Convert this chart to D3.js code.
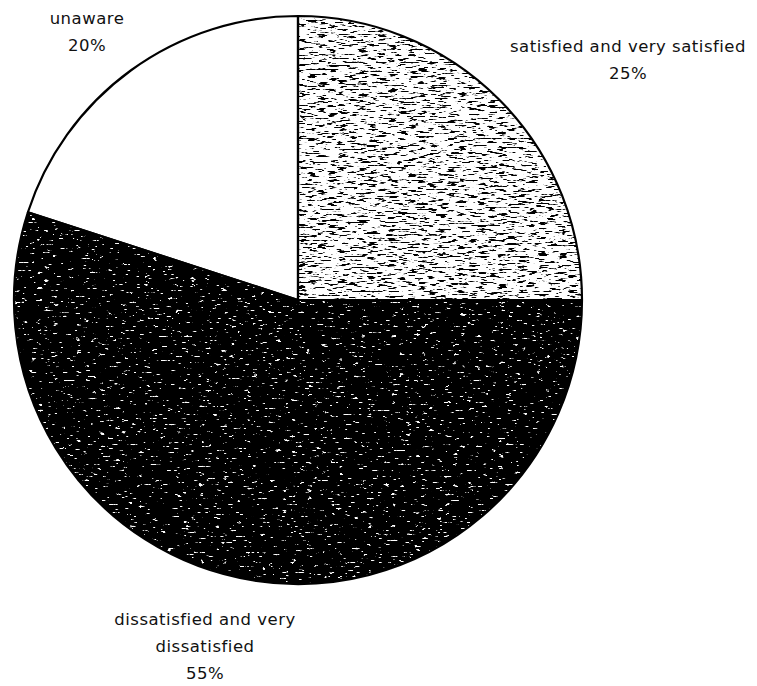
<!DOCTYPE html>
<html>
<head>
<meta charset="utf-8">
<script src="https://cdn.jsdelivr.net/npm/d3@7"></script>
<style>
  body { margin: 0; background: #fff; }
  svg { display: block; }
  text { font-family: "DejaVu Sans", sans-serif; font-size: 16.5px; letter-spacing: 0.5px; fill: #111; }
</style>
</head>
<body>
<div id="chart"></div>
<script>
// data
var categories = ["satisfied and very satisfied", "dissatisfied and very dissatisfied", "unaware"]
var shares = [25, 55, 20]
// how each label is broken into lines
var labelLines = [
  ["satisfied and very satisfied", "25%"],
  ["dissatisfied and very", "dissatisfied", "55%"],
  ["unaware", "20%"]
]

var width = 757
var height = 686
var cx = 298
var cy = 300
var radius = 284

// where the label blocks sit (centre x, first baseline)
var labelAnchor = [
  {x: 628, y: 52},
  {x: 205, y: 625},
  {x: 87, y: 24}
]
var lineGap = 27

var svg = d3.select("#chart").append("svg")
  .attr("width", width)
  .attr("height", height)

var defs = svg.append("defs")

// scanned look, built from noise: ink = colour of the speckles
function speckle(id, freq, seed, ink, slope, intercept) {
  var f = defs.append("filter").attr("id", id)
    .attr("color-interpolation-filters", "sRGB")
  f.append("feTurbulence")
    .attr("type", "fractalNoise").attr("baseFrequency", freq)
    .attr("numOctaves", 3).attr("seed", seed).attr("result", "noise")
  f.append("feColorMatrix").attr("in", "noise").attr("type", "matrix")
    .attr("values", "0 0 0 0 " + ink + "  0 0 0 0 " + ink + "  0 0 0 0 " + ink + "  1 0 0 0 0")
    .attr("result", "a")
  f.append("feComponentTransfer").attr("in", "a").attr("result", "dots")
    .append("feFuncA").attr("type", "linear").attr("slope", slope).attr("intercept", intercept)
  f.append("feComposite").attr("in", "dots").attr("in2", "SourceGraphic")
    .attr("operator", "in").attr("result", "clipped")
  var m = f.append("feMerge")
  m.append("feMergeNode").attr("in", "SourceGraphic")
  m.append("feMergeNode").attr("in", "clipped")
}
speckle("lightTex", "0.1 0.55", 7, 0, 14, -7.9)
speckle("darkTex", "0.13 0.5", 3, 1, 16, -10.9)

var fills = ["#fff", "#000", "#fff"]
var filters = ["url(#lightTex)", "url(#darkTex)", null]

var pie = d3.pie().sort(null).value(function(d) { return d })
var arcs = pie(shares)
var arc = d3.arc().innerRadius(0).outerRadius(radius)

var g = svg.append("g").attr("transform", "translate(" + cx + "," + cy + ")")

g.selectAll("path.slice")
  .data(arcs)
  .enter()
  .append("path")
  .attr("class", "slice")
  .attr("d", arc)
  .attr("fill", function(d, i) { return fills[i] })
  .attr("filter", function(d, i) { return filters[i] })

g.selectAll("path.edge")
  .data(arcs)
  .enter()
  .append("path")
  .attr("class", "edge")
  .attr("d", arc)
  .attr("fill", "none")
  .attr("stroke", "#000")
  .attr("stroke-width", 2.2)
  .attr("stroke-linejoin", "round")

categories.forEach(function(c, i) {
  var t = svg.append("text")
    .attr("x", labelAnchor[i].x)
    .attr("y", labelAnchor[i].y)
    .attr("text-anchor", "middle")
  labelLines[i].forEach(function(line, k) {
    t.append("tspan")
      .attr("x", labelAnchor[i].x)
      .attr("y", labelAnchor[i].y + k * lineGap)
      .text(line)
  })
})
</script>
</body>
</html>
